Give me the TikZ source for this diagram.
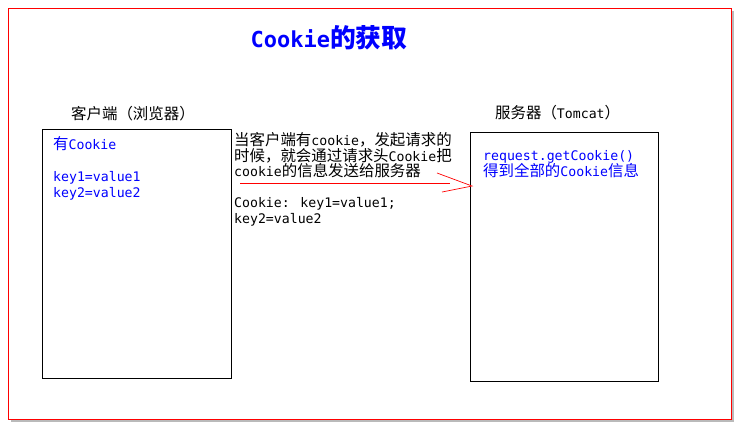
\documentclass[tikz,border=0pt]{standalone}
\usepackage{fontspec}
\setmainfont{DejaVu Sans Mono}
\newfontfamily\cjk[Scale=1.17]{Noto Sans CJK SC}
\usetikzlibrary{shadows,calc}
\definecolor{infoblue}{RGB}{0,0,255}
\newcommand{\zh}[1]{{\cjk #1}}

\begin{document}
\begin{tikzpicture}[x=1pt,y=-1pt,
    txt/.style={inner sep=0pt,anchor=base west,align=left,font=\fontsize{13.2}{16}\selectfont},
    box/.style={draw,line width=.9pt,anchor=north west,minimum height=249pt},
    redline/.style={draw=red,line width=.7pt}]
\useasboundingbox (0,0) rectangle (741,429);
\fill[white] (0,0) rectangle (741,429);
\draw[red,fill=white,drop shadow={shadow xshift=3pt,shadow yshift=-3pt,opacity=.45,fill=black!60}] (8,8) rectangle (731,419);
\node[text=infoblue,font=\fontsize{22}{26}\selectfont\bfseries] (title) at (329,38) {Cookie\zh{的获取}};
	\node[box,minimum width=189pt] (client) at (42,129) {};
	\node[box,minimum width=188pt] (server) at (470,132) {};
	\node[txt] (clientlbl) at (71,119) {\zh{客户端（浏览器）}};
	\node[txt] (serverlbl) at (495,118) {\zh{服务器（}Tomcat\zh{）}};
	% multi-line nodes: base is the last line
	\node[txt,text=infoblue] (clienttxt) at (53,197) {\zh{有}Cookie\\[16pt]key1=value1\\key2=value2};
	\node[txt,font=\fontsize{13.2}{15.5}\selectfont] (reqtxt) at (234,223) {\zh{当客户端有}cookie\zh{，发起请求的}\\\zh{时候，就会通过请求头}Cookie\zh{把}\\cookie\zh{的信息发送给服务器}\\[15.5pt]Cookie: key1=value1;\\key2=value2};
	\node[txt,text=infoblue] (servertxt) at (483,176) {request.getCookie()\\\zh{得到全部的}Cookie\zh{信息}};
\coordinate (from) at (240,183);
\coordinate (tip) at ($(server.west |- from)+(2,3)$);
\draw[redline] (from) -- ($(tip)+(-22,-3)$);
\draw[redline] ($(tip)+(-35,-13)$) -- (tip) -- ($(tip)+(-30,6)$);
\end{tikzpicture}
\end{document}
